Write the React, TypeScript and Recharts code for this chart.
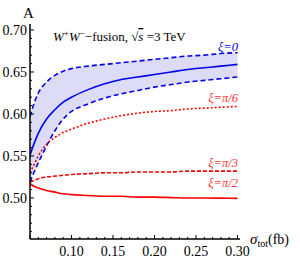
import React from 'react';
import { ComposedChart, Line, Area, XAxis, YAxis } from 'recharts';

const sigma = [0.05, 0.055, 0.06, 0.07, 0.08, 0.09, 0.10, 0.12, 0.14, 0.16, 0.18, 0.20, 0.22, 0.24, 0.26, 0.28, 0.30];
const xi0Mid = [0.551, 0.565, 0.577, 0.594, 0.605, 0.614, 0.620, 0.629, 0.636, 0.641, 0.644, 0.647, 0.650, 0.653, 0.655, 0.657, 0.659];
const xi0Hi = [0.597, 0.613, 0.625, 0.638, 0.646, 0.651, 0.654, 0.657, 0.659, 0.661, 0.663, 0.665, 0.667, 0.669, 0.670, 0.672, 0.673];
const xi0Lo = [0.519, 0.531, 0.542, 0.562, 0.580, 0.594, 0.603, 0.612, 0.619, 0.624, 0.628, 0.632, 0.635, 0.638, 0.640, 0.642, 0.644];
const xiPi6 = [0.530, 0.540, 0.550, 0.564, 0.572, 0.578, 0.582, 0.589, 0.594, 0.598, 0.601, 0.603, 0.604, 0.606, 0.607, 0.608, 0.609];
const xiPi3 = [0.519, 0.521, 0.523, 0.525, 0.526, 0.527, 0.528, 0.529, 0.530, 0.530, 0.531, 0.531, 0.531, 0.532, 0.532, 0.532, 0.532];
const xiPi2 = [0.517, 0.514, 0.512, 0.509, 0.507, 0.505, 0.504, 0.503, 0.502, 0.502, 0.501, 0.501, 0.5005, 0.500, 0.500, 0.4998, 0.4995];

const xTicks = [0.05, 0.06, 0.07, 0.08, 0.09, 0.10, 0.11, 0.12, 0.13, 0.14, 0.15, 0.16, 0.17, 0.18, 0.19, 0.20, 0.21, 0.22, 0.23, 0.24, 0.25, 0.26, 0.27, 0.28, 0.29, 0.30];
const xMajor = [0.05, 0.10, 0.15, 0.20, 0.25, 0.30];
const xLabels = ['0.10', '0.15', '0.20', '0.25', '0.30'];
const yTicks = [0.46, 0.47, 0.48, 0.49, 0.50, 0.51, 0.52, 0.53, 0.54, 0.55, 0.56, 0.57, 0.58, 0.59, 0.60, 0.61, 0.62, 0.63, 0.64, 0.65, 0.66, 0.67, 0.68, 0.69, 0.70];
const yMajor = [0.50, 0.55, 0.60, 0.65, 0.70];

const data = sigma.map((s, i) => ({
  s,
  mid: xi0Mid[i],
  band: [xi0Lo[i], xi0Hi[i]],
  hi: xi0Hi[i],
  lo: xi0Lo[i],
  p6: xiPi6[i],
  p3: xiPi3[i],
  p2: xiPi2[i],
}));

const serif = '"Liberation Serif", "DejaVu Serif", serif';
const near = (list: number[], v: number) => list.some((t) => Math.abs(t - v) < 1e-6);

const XTick = (props: any) => {
  const { x, y, payload } = props;
  const v = payload.value;
  const major = near(xMajor, v);
  const label = xLabels.find((l) => Math.abs(parseFloat(l) - v) < 1e-6);
  return (
    <g>
      <line x1={x} x2={x} y1={y} y2={y - (major ? 4 : 2)} stroke="#000" strokeWidth={1} />
      {label && (
        <text x={x} y={y + 17} textAnchor="middle" fontSize={14} fontFamily={serif} fill="#000">
          {label}
        </text>
      )}
    </g>
  );
};

const YTick = (props: any) => {
  const { x, y, payload } = props;
  const v = payload.value;
  const major = near(yMajor, v);
  return (
    <g>
      <line x1={x} x2={x + (major ? 4 : 2)} y1={y} y2={y} stroke="#000" strokeWidth={1} />
      {major && (
        <text x={x - 3} y={y + 5} textAnchor="end" fontSize={14} fontFamily={serif} fill="#000">
          {v.toFixed(2)}
        </text>
      )}
    </g>
  );
};

const App: React.FC = () => {
  return (
    <div style={{ position: 'absolute', left: 0, top: 0, width: 300, height: 260 }}>
      <ComposedChart width={300} height={260} data={data} margin={{ top: 24, right: 60, bottom: 0, left: 0 }}>
        <XAxis
          dataKey="s"
          type="number"
          domain={[0.05, 0.303]}
          ticks={xTicks}
          interval={0}
          tick={<XTick />}
          tickSize={0}
          tickMargin={0}
          tickLine={false}
          height={21}
          axisLine={{ stroke: '#000', strokeWidth: 1.5 }}
          allowDataOverflow
        />
        <YAxis
          type="number"
          domain={[0.4512, 0.7071]}
          ticks={yTicks}
          interval={0}
          tick={<YTick />}
          tickSize={0}
          tickMargin={0}
          tickLine={false}
          width={30}
          axisLine={{ stroke: '#000', strokeWidth: 1.5 }}
          allowDataOverflow
        />
        <Area dataKey="band" type="monotone" fill="#dcdcf6" fillOpacity={1} stroke="none" isAnimationActive={false} />
        <Line dataKey="hi" type="monotone" stroke="#0000ee" strokeWidth={1.6} strokeDasharray="5 3" dot={false} isAnimationActive={false} />
        <Line dataKey="lo" type="monotone" stroke="#0000ee" strokeWidth={1.6} strokeDasharray="5 3" dot={false} isAnimationActive={false} />
        <Line dataKey="mid" type="monotone" stroke="#0000ee" strokeWidth={1.6} dot={false} isAnimationActive={false} />
        <Line dataKey="p6" type="monotone" stroke="#ff0000" strokeWidth={1.6} strokeDasharray="2 2" dot={false} isAnimationActive={false} />
        <Line dataKey="p3" type="monotone" stroke="#ff0000" strokeWidth={1.6} strokeDasharray="4 2" dot={false} isAnimationActive={false} />
        <Line dataKey="p2" type="monotone" stroke="#ff0000" strokeWidth={1.6} dot={false} isAnimationActive={false} />
      </ComposedChart>
      <svg width={300} height={260} style={{ position: 'absolute', left: 0, top: 0, pointerEvents: 'none' }}>
        <text x={23} y={18} fontSize={15} fontFamily={serif} fill="#000">A</text>
        <text x={53} y={41} fontSize={13} fontFamily={serif} fill="#000">
          <tspan fontStyle="italic">W</tspan>
          <tspan dy={-5} fontSize={9}>+</tspan>
          <tspan dy={5} fontStyle="italic">W</tspan>
          <tspan dy={-5} fontSize={9}>−</tspan>
          <tspan dy={5}>−fusion, √</tspan>
          <tspan fontStyle="italic" textDecoration="overline">s</tspan>
          <tspan> =3 TeV</tspan>
        </text>
        <text x={238} y={51} textAnchor="end" fontSize={12.5} fontStyle="italic" fontFamily={serif} fill="#0000ee">ξ=0</text>
        <text x={238} y={102} textAnchor="end" fontSize={12.5} fontStyle="italic" fontFamily={serif} fill="#ff3333">ξ=π/6</text>
        <text x={238} y={167} textAnchor="end" fontSize={12.5} fontStyle="italic" fontFamily={serif} fill="#ff3333">ξ=π/3</text>
        <text x={238} y={187} textAnchor="end" fontSize={12.5} fontStyle="italic" fontFamily={serif} fill="#ff3333">ξ=π/2</text>
        <text x={250} y={244} fontSize={15} fontFamily={serif} fill="#000">
          <tspan fontStyle="italic">σ</tspan>
          <tspan dy={3} fontSize={10}>tot</tspan>
          <tspan dy={-3} fontSize={14}>(fb)</tspan>
        </text>
      </svg>
    </div>
  );
};

export default App;
